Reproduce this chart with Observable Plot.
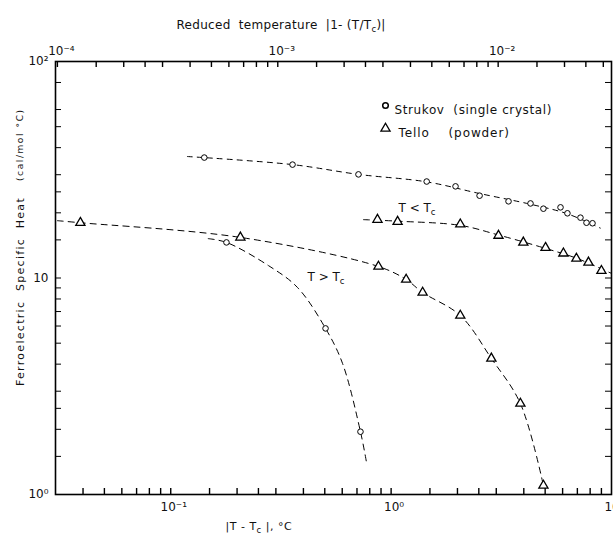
<!DOCTYPE html>
<html><head><meta charset="utf-8">
<script src="https://cdn.jsdelivr.net/npm/d3@7"></script>
<script src="https://cdn.jsdelivr.net/npm/@observablehq/plot@0.6"></script>
<style>body{margin:0;background:#fff;} svg{display:block;background:#fff;font-family:"DejaVu Sans"}</style>
</head><body><div id="chart"></div>
<script>
// ---- data (|T - Tc| in °C, specific heat in cal/mol °C) ----
const strukovBelowX = [0.142, 0.357, 0.711, 1.45, 1.96, 2.52, 3.41, 4.29, 4.91, 5.87, 6.31, 7.23, 7.70, 8.20];
const strukovBelowY = [36.0, 33.4, 30.1, 27.9, 26.5, 24.0, 22.6, 22.1, 20.9, 21.2, 19.9, 19.0, 18.0, 17.9];
const strukovBelowFitX = [0.119, 0.357, 0.711, 1.45, 2.5, 4.3, 6.3, 8.9];
const strukovBelowFitY = [36.4, 33.4, 30.1, 27.8, 24.6, 21.9, 19.8, 17.0];

const telloBelowX = [0.867, 1.07, 2.06, 3.07, 3.98, 5.02, 6.05, 6.93, 7.86, 9.0];
const telloBelowY = [18.6, 18.2, 17.7, 15.7, 14.6, 13.8, 13.0, 12.3, 11.8, 10.8];
const telloBelowFitX = [0.749, 1.07, 2.06, 3.07, 5.02, 7.0, 10];
const telloBelowFitY = [18.6, 18.3, 17.5, 15.8, 13.7, 12.3, 10.5];

const telloAboveX = [0.0389, 0.207, 0.876, 1.17, 1.39, 2.06, 2.85, 3.86, 4.91];
const telloAboveY = [18.0, 15.4, 11.3, 9.84, 8.57, 6.71, 4.25, 2.63, 1.10];
const telloAboveFitX = [0.0306, 0.0389, 0.207, 0.876, 1.17, 1.39, 2.06, 2.85, 3.86, 4.91];
const telloAboveFitY = [18.4, 18.0, 15.4, 11.3, 9.84, 8.57, 6.71, 4.25, 2.63, 1.10];

const strukovAboveX = [0.179, 0.504, 0.726];
const strukovAboveY = [14.6, 5.85, 1.95];
const strukovAboveFitX = [0.148, 0.179, 0.278, 0.376, 0.504, 0.602, 0.726, 0.773];
const strukovAboveFitY = [15.2, 14.6, 11.4, 9.04, 5.85, 4.03, 1.95, 1.41];

// ---- ticks ----
const Tc = 306; // K : reduced temperature t -> |T-Tc| = t*Tc
const xMinorTicks = [0.04,0.05,0.06,0.07,0.08,0.09,0.1,0.15,0.2,0.25,0.3,0.4,0.5,0.6,0.7,0.8,0.9,1,1.5,2,2.5,3,4,5,6,7,8,9];
const xDecades = [0.1, 1, 10];
const xDecadeLabels = ["10⁻¹", "10⁰", "10¹"];
const topTicks = [1e-4,1.5e-4,2e-4,2.5e-4,3e-4,4e-4,5e-4,6e-4,7e-4,8e-4,9e-4,1e-3,1.5e-3,2e-3,2.5e-3,3e-3,4e-3,5e-3,6e-3,7e-3,8e-3,9e-3,1e-2,1.5e-2,2e-2,2.5e-2,3e-2];
const topDecades = [1e-4, 1e-3, 1e-2];
const topDecadeLabels = ["10⁻⁴", "10⁻³", "10⁻²"];
const yMinorTicks = [1.5,2,2.5,3,4,5,6,7,8,9,10,15,20,25,30,40,50,60,80];
const yDecades = [1, 10, 100];
const yDecadeLabels = ["10⁰", "10", "10²"];

const W = 613, H = 545, mT = 61, mB = 51, mL = 55, mR = 2;
const frameW = W - mL - mR, frameH = H - mT - mB, tick = 6;

const zip = (a, b) => a.map((v, i) => [v, b[i]]);

const dash = {x: d => d[0], y: d => d[1], curve: "catmull-rom", stroke: "black", strokeWidth: 1, strokeDasharray: "6,5"};
const circ = {x: d => d[0], y: d => d[1], r: 2.8, stroke: "black", fill: "white", strokeWidth: 1};
const tri = {x: d => d[0], y: d => d[1], symbol: "triangle", r: 3.4, stroke: "black", fill: "white", strokeWidth: 1.3};
const font = {fontFamily: "DejaVu Sans", fill: "#111"};
const tickStyle = {stroke: "#000", strokeWidth: 1.4};

const chart = Plot.plot({
  width: W, height: H,
  marginTop: mT, marginBottom: mB, marginLeft: mL, marginRight: mR,
  x: {type: "log", domain: [0.03, 10], axis: null},
  y: {type: "log", domain: [1, 100], axis: null},
  marks: [
    Plot.line(zip(strukovBelowFitX, strukovBelowFitY), {...dash, strokeDasharray: "5,5"}),
    Plot.line(zip(telloBelowFitX, telloBelowFitY), dash),
    Plot.line(zip(telloAboveFitX, telloAboveFitY), dash),
    Plot.line(zip(strukovAboveFitX, strukovAboveFitY), dash),
    Plot.dot(zip(strukovBelowX, strukovBelowY), circ),
    Plot.dot(zip(strukovAboveX, strukovAboveY), circ),
    Plot.dot(zip(telloBelowX, telloBelowY), tri),
    Plot.dot(zip(telloAboveX, telloAboveY), tri),
    Plot.frame({stroke: "black", strokeWidth: 1.6}),
    // inward ticks
    Plot.tickX(xMinorTicks, {x: d => d, insetTop: frameH - tick, ...tickStyle}),
    Plot.tickX(topTicks, {x: d => d * Tc, insetBottom: frameH - tick, ...tickStyle}),
    Plot.tickY(yMinorTicks, {y: d => d, insetRight: frameW - tick, stroke: "black", strokeWidth: 1}),
    Plot.tickY(yMinorTicks, {y: d => d, insetLeft: frameW - tick, stroke: "black", strokeWidth: 1}),
    // tick labels
    Plot.text(xDecades, {x: d => d, text: (d, i) => xDecadeLabels[i], frameAnchor: "bottom", dy: 16, dx: 3, fontSize: 12, ...font}),
    Plot.text(topDecades, {x: d => d * Tc, text: (d, i) => topDecadeLabels[i], frameAnchor: "top", dy: -15, dx: 4, fontSize: 12, ...font}),
    Plot.text(yDecades, {y: d => d, text: (d, i) => yDecadeLabels[i], frameAnchor: "left", dx: -7, textAnchor: "end", fontSize: 12, ...font}),
    // titles
    Plot.text(["Reduced  temperature  |1- (T/T_c)|"], {frameAnchor: "top-left", dx: 121, dy: -41, textAnchor: "start", fontSize: 12, ...font}),
    Plot.text(["|T - T_c |, °C"], {frameAnchor: "bottom-left", dx: 170, dy: 35, textAnchor: "start", fontSize: 11, ...font}),
    Plot.text(["Ferroelectric  Specific  Heat"], {frameAnchor: "left", dx: -35, dy: 108, rotate: -90, textAnchor: "start", fontSize: 11, ...font}),
    Plot.text(["(cal/mol °C)"], {frameAnchor: "left", dx: -35, dy: -97, rotate: -90, textAnchor: "start", fontSize: 9, ...font}),
    // legend
    Plot.dot([null], {frameAnchor: "top-left", dx: 330, dy: 44, r: 2.8, stroke: "black", fill: "white"}),
    Plot.text(["Strukov  (single crystal)"], {frameAnchor: "top-left", dx: 339, dy: 44, textAnchor: "start", fontSize: 12, ...font}),
    Plot.dot([null], {frameAnchor: "top-left", dx: 330, dy: 67, symbol: "triangle", r: 3.4, stroke: "black", fill: "white", strokeWidth: 1.3}),
    Plot.text(["Tello    (powder)"], {frameAnchor: "top-left", dx: 343, dy: 67, textAnchor: "start", fontSize: 12, ...font}),
    // annotations
    Plot.text(["T < T_c"], {frameAnchor: "top-left", dx: 343, dy: 142, textAnchor: "start", fontSize: 12, ...font}),
    Plot.text(["T > T_c"], {frameAnchor: "top-left", dx: 252, dy: 211, textAnchor: "start", fontSize: 12, ...font})
  ]
});

// letter spacing tweaks (hand-lettered original is widely spaced)
const spacing = {
  "Reduced  temperature  |1- (T/T_c)|": 0.3,
  "Ferroelectric  Specific  Heat": 1.3,
  "(cal/mol °C)": 1.6,
  "Strukov  (single crystal)": 0.6,
  "Tello    (powder)": 0.9,
  "|T - T_c |, °C": 0.5
};
chart.querySelectorAll("text").forEach(t => {
  const s = spacing[t.textContent];
  if (s) t.setAttribute("letter-spacing", s);
});
// subscript "c" in T_c
const NS = "http://www.w3.org/2000/svg";
chart.querySelectorAll("text").forEach(t => {
  const txt = t.textContent;
  const k = txt.indexOf("T_c");
  if (k < 0) return;
  const before = txt.slice(0, k + 1), after = txt.slice(k + 3);
  t.textContent = before;
  const s = document.createElementNS(NS, "tspan");
  s.setAttribute("dy", "3");
  s.setAttribute("font-size", "8.5");
  s.textContent = "c";
  t.appendChild(s);
  if (after.length) {
    const r = document.createElementNS(NS, "tspan");
    r.setAttribute("dy", "-3");
    r.textContent = after;
    t.appendChild(r);
  }
});
document.getElementById("chart").appendChild(chart);
</script>
</body></html>
